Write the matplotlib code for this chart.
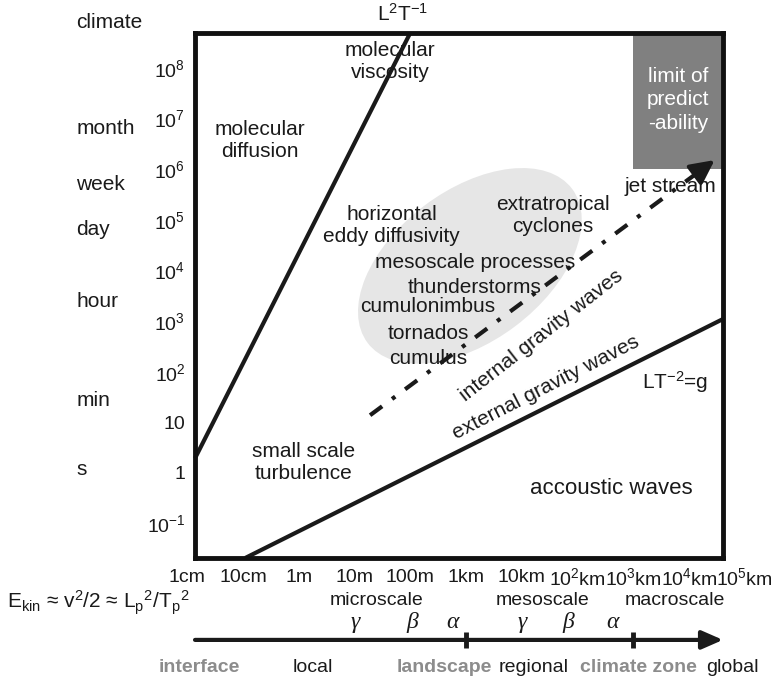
import matplotlib.pyplot as plt
from matplotlib.patches import Ellipse, Rectangle
from matplotlib.transforms import ScaledTranslation

plt.rcParams['font.family'] = ['Liberation Sans', 'DejaVu Sans']
plt.rcParams['mathtext.fontset'] = 'custom'
plt.rcParams['mathtext.rm'] = 'Liberation Sans'
plt.rcParams['mathtext.it'] = 'Liberation Sans:italic'
plt.rcParams['mathtext.bf'] = 'Liberation Sans:bold'

# axes are in decades: x = log10(length / m), y = log10(time / s)
x_range = (-1.86, 7.61)
y_range = (-1.68, 8.69)

length_ticks = [-2, -1, 0, 1, 2, 3, 4, 5, 6, 7, 8]
length_labels = ['1cm', '10cm', '1m', '10m', '100m', '1km', '10km',
                 r'10$^2$km', r'10$^3$km', r'10$^4$km', r'10$^5$km']
time_ticks = [-1, 0, 1, 2, 3, 4, 5, 6, 7, 8]
time_labels = [r'$\mathrm{10^{-1}}$', '1', '10', r'$\mathrm{10^2}$', r'$\mathrm{10^3}$',
               r'$\mathrm{10^4}$', r'$\mathrm{10^5}$', r'$\mathrm{10^6}$',
               r'$\mathrm{10^7}$', r'$\mathrm{10^8}$']
time_names = ['climate', 'month', 'week', 'day', 'hour', 'min', 's']
time_name_y = [8.89, 6.81, 5.69, 4.80, 3.38, 1.44, 0.06]

# boundary lines, end points
viscosity_L = [-1.86, 2.0]
viscosity_T = [0.29, 8.69]
gravity_L = [-0.96, 7.61]
gravity_T = [-1.68, 3.04]
jet_L = [1.28, 7.46]
jet_T = [1.14, 6.18]

predict_x, predict_y = 6.0, 6.0
blob_x, blob_y = 3.07, 4.09

# (text, x, y, rotation)
labels = [
    ('molecular\nviscosity', 1.64, 8.12, 0),
    ('molecular\ndiffusion', -0.69, 6.56, 0),
    ('horizontal\neddy diffusivity', 1.67, 4.88, 0),
    ('extratropical\ncyclones', 4.56, 5.09, 0),
    ('mesoscale processes', 3.16, 4.15, 0),
    ('thunderstorms', 3.16, 3.67, 0),
    ('cumulonimbus', 2.32, 3.28, 0),
    ('tornados', 2.32, 2.76, 0),
    ('cumulus', 2.32, 2.27, 0),
    ('jet stream', 6.66, 5.65, 0),
    ('internal gravity waves', 4.36, 2.72, 38),
    ('external gravity waves', 4.43, 1.68, 27),
    (r'LT$^{-2}$=g', 6.75, 1.79, 0),
    ('small scale\nturbulence', 0.08, 0.21, 0),
]

scale_names = ['microscale', 'mesoscale', 'macroscale']
scale_x = [1.39, 4.38, 6.75]
greek = ['γ', 'β', 'α', 'γ', 'β', 'α']
greek_x = [1.01, 2.03, 2.75, 4.0, 4.83, 5.63]
zone_names = ['interface', 'local', 'landscape', 'regional', 'climate zone', 'global']
zone_x = [-1.78, 0.26, 2.62, 4.22, 6.10, 7.77]
zone_grey = [True, False, True, False, True, False]
zone_breaks = [3, 6]

ink = '#1a1a1a'
fig = plt.figure(figsize=(7.73, 6.8), dpi=100)
ax = fig.add_axes([0.2523, 0.1794, 0.683, 0.7721])
ax.set_xlim(x_range)
ax.set_ylim(y_range)

# grey blob of mesoscale phenomena (size in inches so it stays a true ellipse)
blob_tr = fig.dpi_scale_trans + ScaledTranslation(blob_x, blob_y, ax.transData)
ax.add_patch(Ellipse((0, 0), 2.56, 1.51, angle=37, transform=blob_tr,
                     facecolor='#e6e6e6', edgecolor='none', zorder=1))

ax.add_patch(Rectangle((predict_x, predict_y), x_range[1] - predict_x, y_range[1] - predict_y,
                       facecolor='#808080', edgecolor='none', zorder=1))
ax.text(6.80, 7.37, 'limit of\npredict\n-ability', color='white', fontsize=15,
        ha='center', va='center', linespacing=1.3, zorder=4)

ax.plot(viscosity_L, viscosity_T, color=ink, lw=3, solid_capstyle='butt', zorder=3, clip_on=False)
ax.plot(gravity_L, gravity_T, color=ink, lw=3, solid_capstyle='butt', zorder=3, clip_on=False)

# dash-dot jet stream arrow
head = 0.06
tail_L = jet_L[1] - head * (jet_L[1] - jet_L[0])
tail_T = jet_T[1] - head * (jet_T[1] - jet_T[0])
ax.plot([jet_L[0], tail_L], [jet_T[0], tail_T], color=ink, lw=3,
        linestyle=(0, (3.6, 2.95, 0.96, 2.95)), zorder=3)
ax.annotate('', xy=(jet_L[1], jet_T[1]), xytext=(tail_L, tail_T),
            arrowprops=dict(arrowstyle='-|>,head_length=0.9,head_width=0.45', color=ink,
                            lw=3, mutation_scale=16, shrinkA=0, shrinkB=0), zorder=3)

for txt, x, y, rot in labels:
    ax.text(x, y, txt, fontsize=15, color=ink, ha='center', va='center',
            rotation=rot, rotation_mode='anchor', zorder=2)
ax.text(5.60, -0.30, 'accoustic waves', fontsize=16, color=ink, ha='center', va='center')
ax.text(1.87, 9.07, r'L$^2$T$^{-1}$', fontsize=15, color=ink, ha='center', va='center')

# time axis
ax.set_yticks(time_ticks, time_labels)
ax.tick_params(axis='y', length=0, pad=7, labelsize=14, labelcolor=ink)
ax.set_xticks([])
ytr = ax.get_yaxis_transform()
for name, y in zip(time_names, time_name_y):
    ax.text(-0.225, y, name, transform=ytr, fontsize=15, color=ink, ha='left', va='center')

# length axis and scale band
xtr = ax.get_xaxis_transform()
for x, lab in zip(length_ticks, length_labels):
    ax.text(x, -0.038, lab, transform=xtr, fontsize=14, color=ink, ha='center', va='center')
for x, lab in zip(scale_x, scale_names):
    ax.text(x, -0.080, lab, transform=xtr, fontsize=14, color=ink, ha='center', va='center')
for x, g in zip(greek_x, greek):
    ax.text(x, -0.123, g, transform=xtr, fontsize=17, color=ink, ha='center', va='center',
            family='Liberation Serif', style='italic')
ax.annotate('', xy=(x_range[1], -0.156), xytext=(x_range[0], -0.156), xycoords=xtr,
            arrowprops=dict(arrowstyle='-|>,head_length=0.8,head_width=0.35', color=ink,
                            lw=3, mutation_scale=16, shrinkA=0, shrinkB=0),
            annotation_clip=False)
for x in zone_breaks:
    ax.plot([x, x], [-0.141, -0.171], transform=xtr, color=ink, lw=3.5,
            solid_capstyle='butt', clip_on=False)
for x, name, grey in zip(zone_x, zone_names, zone_grey):
    ax.text(x, -0.208, name, transform=xtr, fontsize=14, ha='center', va='center',
            color='#8c8c8c' if grey else ink, weight='bold' if grey else 'normal')

ax.text(-0.356, -0.086, r'E$_\mathrm{kin}$ ≈ v$^2$/2 ≈ L$_\mathrm{p}{}^2$/T$_\mathrm{p}{}^2$',
        transform=ax.transAxes, fontsize=15, color=ink, ha='left', va='center')

for s in ax.spines.values():
    s.set_linewidth(3.5)
    s.set_color('#111111')
    s.set_zorder(5)

fig.savefig('out.png', dpi=100)
